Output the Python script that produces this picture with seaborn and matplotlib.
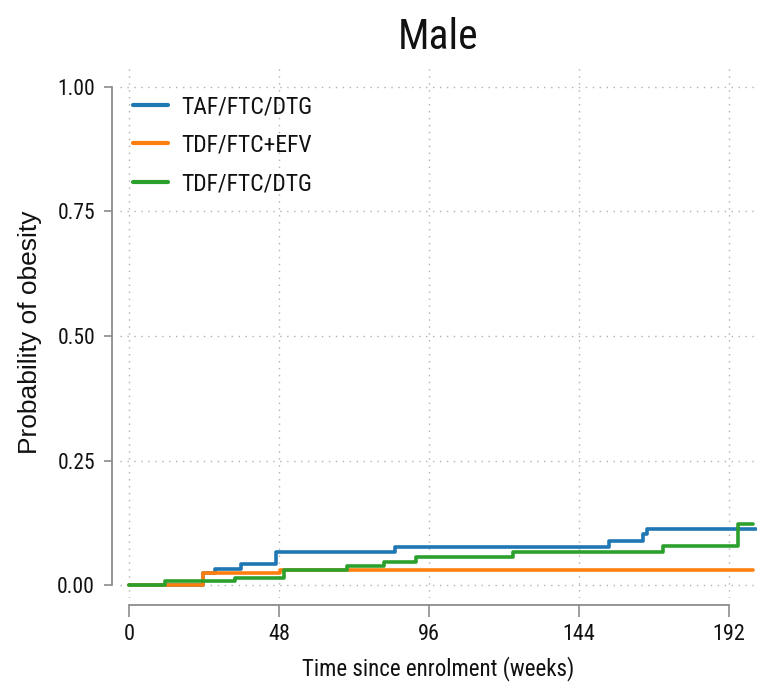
import matplotlib
matplotlib.use("Agg")
import matplotlib.pyplot as plt
from matplotlib import font_manager as fm
import seaborn as sns
import pandas as pd

# ---- data ----
groups = ["TAF/FTC/DTG", "TDF/FTC+EFV", "TDF/FTC/DTG"]
taf_time = [0, 23.7, 27.5, 35.7, 47.0, 85.0, 153.6, 164.5, 165.7, 200.8]
taf_prob = [0, 0.025, 0.033, 0.042, 0.067, 0.077, 0.088, 0.102, 0.112, 0.112]
efv_time = [0, 23.8, 48.3, 199.7]
efv_prob = [0, 0.024, 0.031, 0.031]
dtg_time = [0, 11.5, 34.0, 49.6, 69.7, 81.7, 92.0, 122.8, 170.8, 195.0, 199.7]
dtg_prob = [0, 0.008, 0.015, 0.030, 0.038, 0.047, 0.056, 0.067, 0.078, 0.122, 0.122]
x_ticks = [0, 48, 96, 144, 192]
y_ticks = [0.00, 0.25, 0.50, 0.75, 1.00]
y_ticklabels = ["0.00", "0.25", "0.50", "0.75", "1.00"]
colors = ["#1f77b4", "#ff7f0e", "#2ca02c"]

frames = []
for g, t, p in zip(groups, [taf_time, efv_time, dtg_time], [taf_prob, efv_prob, dtg_prob]):
    frames.append(pd.DataFrame({"time": t, "prob": p, "group": g}))
df = pd.concat(frames, ignore_index=True)

sns.set_style("white")
available = {f.name for f in fm.fontManager.ttflist}
narrow_pref = ["Liberation Sans Narrow", "Arial Narrow", "Roboto Condensed",
               "Archivo Narrow", "PT Sans Narrow", "Pragati Narrow"]
narrow_font = next((f for f in narrow_pref if f in available), "Liberation Sans")
plt.rcParams["font.family"] = [narrow_font, "Liberation Sans", "DejaVu Sans"]

W, H = 758, 691
fig = plt.figure(figsize=(W / 100, H / 100), dpi=100)
ax = fig.add_axes([120 / W, 1 - 598 / H, (757 - 120) / W, (598 - 67) / H])

sns.lineplot(data=df, x="time", y="prob", hue="group", hue_order=groups,
             palette=colors, drawstyle="steps-post", linewidth=2.6,
             estimator=None, errorbar=None, ax=ax, legend=True)

ax.set_xlim(-2.9, 201.0)
ax.set_ylim(-0.026, 1.040)
ax.set_xticks(x_ticks)
ax.set_xticklabels([str(v) for v in x_ticks])
ax.set_yticks(y_ticks)
ax.set_yticklabels(y_ticklabels)

ax.grid(True, linestyle=(0, (1, 4)), color="#b0b0b0", linewidth=1.0)

for s in ["top", "right"]:
    ax.spines[s].set_visible(False)
for s in ["left", "bottom"]:
    ax.spines[s].set_color("#8c8c8c")
    ax.spines[s].set_linewidth(1.3)
ax.spines["left"].set_position(("outward", 6))
ax.spines["bottom"].set_position(("outward", 5))
ax.spines["left"].set_bounds(0, 1)
ax.spines["bottom"].set_bounds(0, 192)

ax.tick_params(axis="x", direction="out", length=8.5, width=1.2, color="#8c8c8c",
               pad=5, labelsize=16, bottom=True, labelcolor="#111111")
ax.tick_params(axis="y", direction="out", length=6, width=1.2, color="#8c8c8c",
               pad=6, labelsize=15.5, left=True, labelcolor="#111111")

ax.set_xlabel("Time since enrolment (weeks)", fontsize=16.5, labelpad=8, color="#111111")
ax.set_ylabel("Probability of obesity", fontsize=19, color="#111111",
              family=["Liberation Sans", "DejaVu Sans"])
ax.yaxis.set_label_coords(-0.1225, 0.5)
ax.set_title("Male", fontsize=30, pad=13, color="#111111")

leg = ax.legend(loc="upper left", frameon=False, fontsize=17, handlelength=1.45,
                handletextpad=0.6, labelspacing=0.66, bbox_to_anchor=(0.006, 0.965),
                borderaxespad=0.0)
for line in leg.get_lines():
    line.set_linewidth(3)
for t in leg.get_texts():
    t.set_color("#111111")

fig.savefig("out.png", dpi=100)
